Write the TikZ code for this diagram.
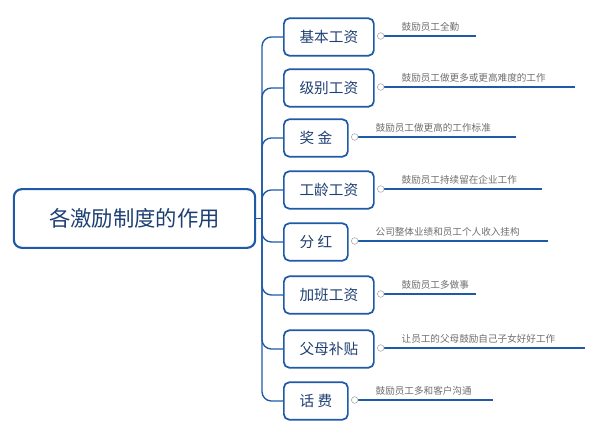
\documentclass[tikz,border=0pt]{standalone}
\usepackage{fontspec}
\newfontfamily\cjk{Noto Sans CJK SC}
\definecolor{bl}{HTML}{1F5AA8}
\definecolor{tx}{HTML}{1E3F73}
\definecolor{gr}{HTML}{6E6E6E}
\begin{document}
\begin{tikzpicture}[x=0.75pt,y=-0.75pt,
 br/.style={draw=bl,line width=1.3pt,rounded corners=4pt,minimum height=28pt,inner xsep=8pt,font=\cjk\fontsize{11}{13}\selectfont,text=tx,anchor=west},
 ln/.style={draw=bl,line width=1pt},
 nt/.style={font=\cjk\fontsize{7.2}{9}\selectfont,text=gr,anchor=south west,inner sep=1pt},
 dot/.style={circle,draw=gr!60,fill=white,inner sep=0pt,minimum size=5pt}]
\useasboundingbox (0,0) rectangle (600,434);
\node[draw=bl,line width=1.6pt,rounded corners=6pt,minimum width=181pt,minimum height=44pt,font=\cjk\fontsize{16}{19}\selectfont,text=tx] (root) at (134.5,218.5) {各激励制度的作用};
\coordinate (tr) at (262,218.5);
\draw[ln] (root.east) -- (tr);
\foreach \i/\t/\y/\w/\e/\n in {
 a/基本工资/37/90/476/鼓励员工全勤,
 b/级别工资/88/90/575/鼓励员工做更多或更高难度的工作,
 c/奖\ 金/138/64/516/鼓励员工做更高的工作标准,
 d/工龄工资/190/90/542/鼓励员工持续留在企业工作,
 e/分\ 红/242/64/548/公司整体业绩和员工个人收入挂构,
 f/加班工资/295/90/476/鼓励员工多做事,
 g/父母补贴/349/90/585/让员工的父母鼓励自己子女好好工作,
 h/话\ 费/401/64/493/鼓励员工多和客户沟通}{
 \node[br,minimum width=\w*0.75pt] (\i) at (283,\y) {\t};
 \draw[ln,rounded corners=7pt] (tr) |- (\i.west);
 \coordinate (\i e) at (\e,\y-1);
 \draw[ln] (\i.east) ++(6,-1) -- (\i e);
 \node[dot] (\i d) at ([xshift=4.5pt,yshift=0.75pt]\i.east) {};
 \node[nt] (\i t) at ([xshift=19pt,yshift=3pt]\i.east) {\n};
}
\end{tikzpicture}
\end{document}
